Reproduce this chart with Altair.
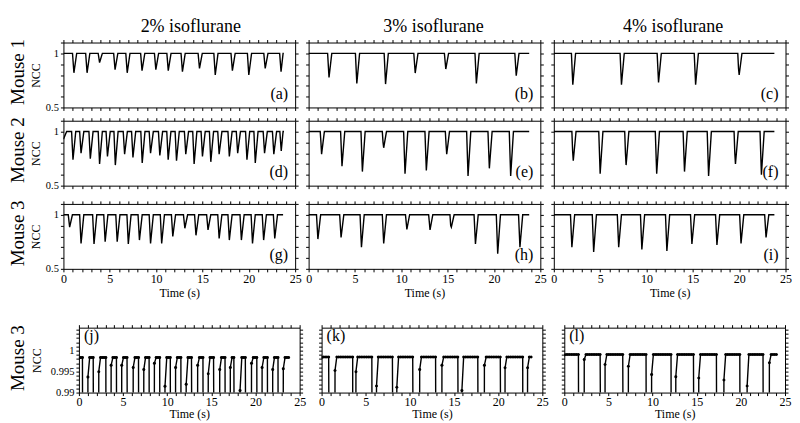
import altair as alt
import pandas as pd

SERIF = "Liberation Serif"

# ---------------- data ----------------
# top 3x3 panels: each dip = [time (s), minimum NCC] or [time, minimum, shoulder value]
A_DIPS = [[1.13, 0.82], [2.55, 0.82], [3.90, 0.915], [5.57, 0.85], [6.88, 0.82], [8.48, 0.84],
          [9.97, 0.85], [11.31, 0.84], [12.84, 0.83], [14.68, 0.86], [16.38, 0.80], [18.23, 0.84],
          [20.0, 0.80], [21.77, 0.86], [23.48, 0.83]]
B_DIPS = [[2.2, 0.778], [5.2, 0.722], [8.3, 0.716], [11.5, 0.818], [14.8, 0.855], [18.1, 0.722],
          [22.4, 0.793]]
C_DIPS = [[2.05, 0.71], [7.3, 0.71], [11.3, 0.73], [15.3, 0.71], [20.0, 0.80, 0.86]]
D_DIPS = [[1.03, 0.74], [1.9, 0.80], [2.9, 0.75], [3.9, 0.70], [4.75, 0.77], [5.6, 0.69],
          [6.6, 0.79], [7.5, 0.76], [8.5, 0.71], [9.4, 0.80], [10.4, 0.78], [11.3, 0.74],
          [12.2, 0.73], [13.2, 0.79], [14.1, 0.70], [15.0, 0.77], [15.9, 0.72], [16.8, 0.79],
          [17.9, 0.77], [18.8, 0.80], [19.8, 0.74], [20.7, 0.71], [21.7, 0.80], [22.7, 0.79],
          [23.5, 0.82]]
E_DIPS = [[1.4, 0.79, 0.90], [3.6, 0.68], [5.8, 0.63], [8.1, 0.85, 0.90], [10.4, 0.61],
          [12.7, 0.64], [14.9, 0.79, 0.88], [17.2, 0.59], [19.5, 0.66], [21.8, 0.59]]
F_DIPS = [[2.1, 0.73, 0.82], [5.0, 0.61], [7.8, 0.69, 0.80], [11.1, 0.61], [14.1, 0.63],
          [16.7, 0.59], [19.6, 0.70, 0.80], [22.4, 0.60]]
G_DIPS = [[0.67, 0.885], [1.9, 0.735], [3.3, 0.73], [4.5, 0.75], [5.8, 0.75], [7.0, 0.73],
          [8.2, 0.766], [9.4, 0.735], [10.6, 0.735], [11.8, 0.80], [13.1, 0.875], [14.3, 0.81],
          [15.6, 0.86], [16.8, 0.78], [17.9, 0.766], [19.2, 0.766], [20.4, 0.735], [21.6, 0.766],
          [22.8, 0.78]]
H_DIPS = [[1.0, 0.775], [3.5, 0.79], [5.7, 0.70], [8.1, 0.735], [10.6, 0.865], [13.1, 0.86],
          [15.4, 0.885, 0.90], [18.0, 0.73], [20.4, 0.64], [22.8, 0.70]]
I_DIPS = [[1.95, 0.70], [4.3, 0.656], [7.0, 0.70], [9.5, 0.68], [12.2, 0.665], [14.9, 0.73],
          [17.6, 0.72], [20.2, 0.735], [22.9, 0.79]]
TOP_START = {"a": 1.0, "b": 1.0, "c": 1.0, "d": 0.93, "e": 1.0, "f": 1.0, "g": 1.0, "h": 1.0, "i": 1.0}
TOP_END = {"a": 23.7, "b": 23.8, "c": 23.8, "d": 23.7, "e": 23.8, "f": 23.8, "g": 23.7, "h": 23.8, "i": 23.8}

# bottom row (zoom of mouse 3): plateau segments [start, end, first (recovering) sample]
J_LEVEL = 0.9984
J_SEGS = [[0.0, 0.47, 0.9982], [1.02, 1.7, 0.9937], [2.25, 3.1, 0.9950], [3.65, 4.3, 0.9965],
          [4.85, 5.6, 0.9965], [6.15, 6.8, 0.9960], [7.35, 8.0, 0.9955], [8.55, 9.2, 0.9970],
          [9.75, 10.4, 0.9915], [10.95, 11.6, 0.9960], [12.15, 12.9, 0.9920], [13.45, 14.1, 0.9965],
          [14.65, 15.4, 0.9945], [15.95, 16.6, 0.9955], [17.15, 17.7, 0.9960], [18.25, 19.0, 0.9905],
          [19.55, 20.2, 0.9970], [20.75, 21.4, 0.9960], [21.95, 22.6, 0.9955], [23.15, 23.9, 0.9957]]
K_LEVEL = 0.9985
K_SEGS = [[0.0, 0.96, 0.9984], [1.52, 3.52, 0.9953], [3.89, 5.78, 0.9950], [6.22, 8.19, 0.9916],
          [8.52, 10.48, 0.9913], [11.11, 13.0, 0.9955], [13.63, 15.59, 0.9965], [15.89, 17.81, 0.9905],
          [18.44, 20.41, 0.9965], [20.78, 22.78, 0.9959], [23.33, 23.81, 0.9959]]
L_LEVEL = 0.9991
L_SEGS = [[0.0, 1.69, 0.9990], [2.26, 4.25, 0.9979], [4.62, 6.77, 0.9967], [7.26, 9.32, 0.9963],
          [9.89, 12.14, 0.9943], [12.63, 14.77, 0.9938], [15.23, 17.33, 0.9935], [18.08, 19.96, 0.9930],
          [20.71, 22.59, 0.9916], [23.23, 24.17, 0.9971]]
FRAME = 0.2  # sampling interval of the zoomed traces (s)

XT = list(range(26))
YT_TOP = [0.5, 0.6, 0.7, 0.8, 0.9, 1.0, 1.1]
YT_BOT = [0.990, 0.991, 0.992, 0.993, 0.994, 0.995, 0.996, 0.997, 0.998, 0.999,
          1.000, 1.001, 1.002, 1.003, 1.004, 1.005]

HEADERS = ["2% isoflurane", "3% isoflurane", "4% isoflurane"]
HEADER_X = [127.5, 125, 119.5]
MICE = ["Mouse 1", "Mouse 2", "Mouse 3"]

# ---------------- layout constants ----------------
W, H = 232, 65
W2, H2 = 221, 65
L_COL = 40        # width of the row-label column (top block)
L_COL2 = 47       # width of the row-label column (bottom row)
HEAD_H = 11.3
ROW_H = [65, 70, 65]   # height of the row-label cells (sets the row pitch)
XLAB = "datum.value % 5 === 0 ? datum.label : ''"
YLAB_TOP = "abs(datum.value - 1) < 1e-6 ? '1' : (abs(datum.value - 0.5) < 1e-6 ? '0.5' : '')"
YLAB_BOT = ("abs(datum.value - 1) < 1e-7 ? '1' : (abs(datum.value - 0.995) < 1e-7 ? '0.995' : "
            "(abs(datum.value - 0.99) < 1e-7 ? '0.99' : ''))")
NOFRAME = alt.ViewBackground(stroke="transparent")


def dip_frame(dips, start, end):
    t, v = [0.0], [start]
    if start != 1.0:
        t.append(0.35)
        v.append(1.0)
    for d in dips:
        td, vd = d[0], d[1]
        t.append(td - 0.15)
        v.append(1.0)
        if len(d) > 2:
            t.append(td - 0.07)
            v.append(d[2])
        t += [td, td + 0.3]
        v += [vd, 1.0]
    t.append(end)
    v.append(1.0)
    return pd.DataFrame({"t": t, "v": v})


def seg_frame(segs, level):
    t, v = [], []
    n = len(segs)
    for k, (s, e, r) in enumerate(segs):
        if k > 0:
            t.append(s - 0.04)
            v.append(0.9)
        t.append(s)
        v.append(r)
        x = s + FRAME
        while x <= e + 1e-9:
            t.append(round(x, 3))
            v.append(level)
            x += FRAME
        if k < n - 1:
            t.append(e + 0.04)
            v.append(0.9)
    return pd.DataFrame({"t": t, "v": v})


def axes(show_x, show_y, yvals, ylab, ncc_pad, xpad, tpad):
    common = dict(tickSize=3, tickColor="black", tickWidth=1, grid=False, domain=False,
                  labelFont=SERIF, titleFont=SERIF, labelColor="black", titleColor="black",
                  titleFontWeight="normal", labelOverlap=False)
    xb = alt.Axis(orient="bottom", values=XT, labels=show_x, labelExpr=XLAB, labelFlush=False,
                  labelFontSize=12, labelPadding=xpad, title="Time (s)" if show_x else None,
                  titleFontSize=12, titlePadding=tpad, **common)
    yl = alt.Axis(orient="left", values=yvals, labels=show_y, labelExpr=ylab, labelFontSize=10.5,
                  labelPadding=2, title="NCC" if show_y else None, titleFontSize=12,
                  titlePadding=ncc_pad, **common)
    xt = alt.Axis(orient="top", values=XT, labels=False, title=None, **common)
    yr = alt.Axis(orient="right", values=yvals, labels=False, title=None, **common)
    return xb, yl, xt, yr


def panel(df, ydom, yvals, ylab, w, h, letter, lx, ly, lalign, show_x, show_y,
          points=False, ncc_pad=3, xpad=2, tpad=3):
    xs = alt.Scale(domain=[0, 25], nice=False, zero=False)
    ys = alt.Scale(domain=ydom, nice=False, zero=False)
    xb, yl, xt, yr = axes(show_x, show_y, yvals, ylab, ncc_pad, xpad, tpad)
    line = alt.Chart(df).mark_line(color="black", strokeWidth=1.4, clip=True).encode(
        x=alt.X("t:Q", scale=xs, axis=xb), y=alt.Y("v:Q", scale=ys, axis=yl))
    # carrier of the top / right axes (mirrored frame ticks); invisible and clipped
    frame_df = pd.DataFrame({"t": [0.0, 25.0], "v": [ydom[0], ydom[1]]})
    frame = alt.Chart(frame_df).mark_line(opacity=0, clip=True).encode(
        x=alt.X("t:Q", scale=xs, axis=xt), y=alt.Y("v:Q", scale=ys, axis=yr))
    layers = [line, frame]
    if points:
        layers.append(alt.Chart(df).mark_circle(color="black", size=9, opacity=1, clip=True).encode(
            x=alt.X("t:Q", axis=None), y=alt.Y("v:Q", axis=None)))
    lab = alt.Chart(pd.DataFrame({"s": [letter]})).mark_text(
        font=SERIF, fontSize=16, color="black", align=lalign, baseline="alphabetic").encode(
        text="s:N", x=alt.value(lx), y=alt.value(ly))
    layers.append(lab)
    return alt.layer(*layers).resolve_axis(x="independent", y="independent").properties(
        width=w, height=h)


def text_cell(s, w, h, x, y, size, angle=0, align="center"):
    return alt.Chart(pd.DataFrame({"s": [s]})).mark_text(
        font=SERIF, fontSize=size, color="black", angle=angle, align=align,
        baseline="alphabetic").encode(text="s:N", x=alt.value(x), y=alt.value(y)).properties(
        width=w, height=h, view=NOFRAME)


dips = [A_DIPS, B_DIPS, C_DIPS, D_DIPS, E_DIPS, F_DIPS, G_DIPS, H_DIPS, I_DIPS]
names = "abcdefghi"
cells = [text_cell("", L_COL, HEAD_H, 0, 0, 10)]
for c in range(3):
    cells.append(text_cell(HEADERS[c], W, HEAD_H, HEADER_X[c], 14.5, 18))
for r in range(3):
    cells.append(text_cell(MICE[r], L_COL, ROW_H[r], 14, H / 2 - 3, 19, angle=270))
    for c in range(3):
        k = 3 * r + c
        nm = names[k]
        df = dip_frame(dips[k], TOP_START[nm], TOP_END[nm])
        cells.append(panel(df, [0.5, 1.1], YT_TOP, YLAB_TOP, W, H, f"({nm})", W - 7, H - 8.5,
                           "right", show_x=(r == 2), show_y=(c == 0), ncc_pad=3))

grid = alt.concat(*cells, columns=4, spacing={"row": 13.3, "column": 13.5}, bounds="flush",
                  align="each")

bots = [text_cell("Mouse 3", L_COL2, H2, 14, H2 / 2 - 2, 19, angle=270)]
for c, (nm, segs, lev) in enumerate(zip("jkl", [J_SEGS, K_SEGS, L_SEGS], [J_LEVEL, K_LEVEL, L_LEVEL])):
    df = seg_frame(segs, lev)
    bots.append(panel(df, [0.99, 1.0055], YT_BOT, YLAB_BOT, W2, H2, f"({nm})", 5, 13, "left",
                      show_x=True, show_y=(c == 0), points=True, ncc_pad=7, xpad=1, tpad=1))

bottom = alt.hconcat(*bots, spacing=22, bounds="flush")

chart = alt.vconcat(grid, bottom, spacing=23.8).properties(
    padding={"left": 0, "top": 0, "right": 0, "bottom": 8}
).configure(font=SERIF).configure_view(stroke="black", strokeWidth=1)

chart.save("out.html", embed_options={"renderer": "svg", "actions": False})
